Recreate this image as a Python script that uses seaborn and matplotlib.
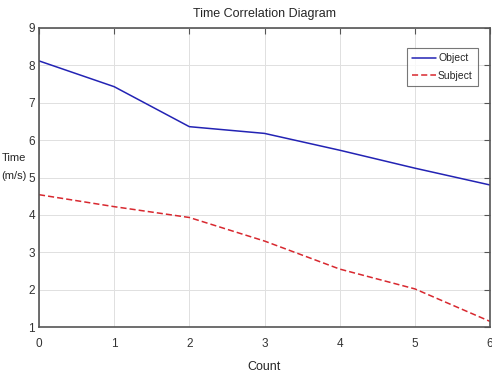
import numpy as np
import pandas as pd
import matplotlib
matplotlib.use("Agg")
import matplotlib.pyplot as plt
import seaborn as sns

# --- data ---
count = [0, 1, 2, 3, 4, 5, 6]
object_time = [8.12, 7.43, 6.36, 6.18, 5.73, 5.25, 4.80]
subject_time = [4.54, 4.22, 3.93, 3.30, 2.55, 2.02, 1.15]
series_names = ["Object", "Subject"]

df = pd.DataFrame({
    "Count": count * 2,
    "Time": object_time + subject_time,
    "Series": [series_names[0]] * len(count) + [series_names[1]] * len(count),
})

sns.set_style("white")
plt.rcParams["font.family"] = ["Liberation Sans", "DejaVu Sans"]

fig = plt.figure(figsize=(4.92, 3.78), dpi=100)
ax = fig.add_axes([39 / 492, 1 - 327 / 378, 451 / 492, 299 / 378])

sns.lineplot(data=df, x="Count", y="Time", hue="Series", style="Series",
             palette=["#2323b4", "#d8282f"], dashes=[(None, None), (4, 2)],
             linewidth=1.1, ax=ax)

ax.set_xlim(0, 6)
ax.set_ylim(1, 9)
ax.set_xticks(count)
ax.set_yticks(range(1, 10))
ax.grid(True, color="#e0e0e0", linewidth=0.7)
ax.tick_params(direction="in", length=4, labelsize=8.5, colors="#555555",
               top=True, right=True, labelcolor="#333333")
ax.tick_params(axis="x", pad=8)
ax.tick_params(axis="y", pad=3)
for s in ax.spines.values():
    s.set_color("#555555")
    s.set_linewidth(1.2)

ax.set_title("Time Correlation Diagram", fontsize=9, pad=8)
ax.set_xlabel("Count", fontsize=9, labelpad=8)
ax.set_ylabel("Time\n\n(m/s)", fontsize=8, rotation=0,
              va="center", ha="center", linespacing=0.85)
ax.yaxis.set_label_coords(-0.055, 0.535)

leg = ax.legend(loc="upper right", fontsize=7.5, frameon=True, fancybox=False,
                edgecolor="#555555", handlelength=2.3, handletextpad=0.2,
                borderpad=0.5, labelspacing=0.7, bbox_to_anchor=(0.985, 0.95))
leg.get_frame().set_linewidth(0.8)

fig.savefig("out.png", dpi=100, facecolor="white")
